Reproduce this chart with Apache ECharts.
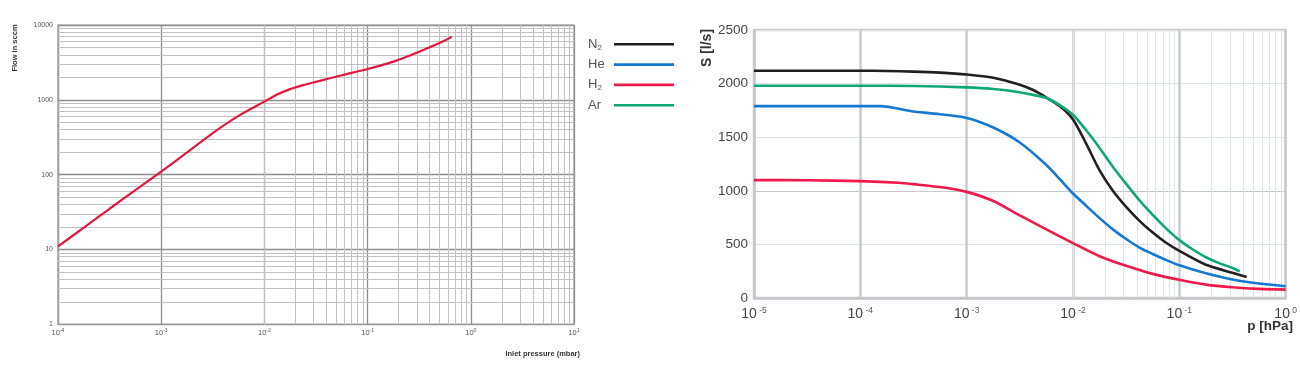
<!DOCTYPE html>
<html><head><meta charset="utf-8">
<script src="https://cdn.jsdelivr.net/npm/echarts@6/dist/echarts.min.js"></script>
<style>html,body{margin:0;padding:0;background:#fff}#c{width:1300px;height:383px}</style>
</head><body><div id="c"></div>
<script>
// ---- Left chart: flow (sccm) vs inlet pressure (mbar) ----
const flowPressure = [1e-4, 1.78e-4, 3.16e-4, 5.62e-4, 1e-3, 1.78e-3, 3.16e-3, 5.62e-3, 1e-2, 1.33e-2, 1.78e-2, 2.37e-2, 3.16e-2, 5.62e-2, 0.1, 0.178, 0.316, 0.562, 0.653];
const flowValues   = [11, 19.6, 35, 62, 110, 198, 360, 610, 947, 1180, 1390, 1570, 1740, 2130, 2580, 3244, 4400, 6200, 7000];
const flowYTicks = [1, 10, 100, 1000, 10000];

// ---- Right chart: pumping speed S (l/s) vs pressure p (hPa) ----
const n2Pressure = [1e-5, 3.16e-5, 1e-4, 1.78e-4, 3.16e-4, 5.62e-4, 1e-3, 1.78e-3, 3.16e-3, 4.22e-3, 5.62e-3, 7.5e-3, 1e-2, 1.33e-2, 1.78e-2, 2.37e-2, 3.16e-2, 4.22e-2, 5.62e-2, 7.5e-2, 0.1, 0.178, 0.316, 0.43];
const n2Speed    = [2120, 2120, 2120, 2118, 2112, 2102, 2085, 2055, 1990, 1940, 1870, 1790, 1665, 1440, 1190, 1000, 850, 720, 610, 515, 440, 310, 235, 197];
const hePressure = [1e-5, 3.16e-5, 1e-4, 1.55e-4, 3.16e-4, 4.7e-4, 1e-3, 1.78e-3, 3.16e-3, 5.62e-3, 7.5e-3, 1e-2, 1.33e-2, 1.78e-2, 2.37e-2, 3.16e-2, 4.22e-2, 5.62e-2, 7.5e-2, 0.1, 0.178, 0.316, 0.562, 1];
const heSpeed    = [1790, 1790, 1790, 1790, 1740, 1722, 1680, 1590, 1450, 1240, 1110, 975, 860, 745, 640, 550, 470, 410, 355, 305, 230, 172, 135, 110];
const h2Pressure = [1e-5, 3.16e-5, 1e-4, 2.3e-4, 3.16e-4, 5.62e-4, 1e-3, 1.78e-3, 3.16e-3, 5.62e-3, 1e-2, 1.78e-2, 3.16e-2, 5.62e-2, 0.1, 0.178, 0.316, 0.562, 1];
const h2Speed    = [1100, 1098, 1090, 1075, 1062, 1035, 990, 905, 770, 640, 512, 390, 300, 225, 170, 125, 100, 85, 78];
const arPressure = [1e-5, 3.16e-5, 1e-4, 3.16e-4, 1e-3, 1.78e-3, 3.16e-3, 4.22e-3, 5.62e-3, 7.5e-3, 1e-2, 1.33e-2, 1.78e-2, 2.37e-2, 3.16e-2, 4.22e-2, 5.62e-2, 7.5e-2, 0.1, 0.133, 0.178, 0.237, 0.316, 0.37];
const arSpeed    = [1980, 1980, 1980, 1978, 1965, 1950, 1920, 1895, 1865, 1800, 1710, 1565, 1400, 1225, 1065, 910, 775, 650, 540, 455, 380, 325, 280, 248];
const gasNames = ['N2', 'He', 'H2', 'Ar'];
const gasColors = ['#231f20', '#1479d2', '#f0194b', '#0ea876'];

function zip(a, b) { return a.map((v, i) => [v, b[i]]); }
function minorLines(key, fromExp, toExp) {
  const out = [];
  for (let e = fromExp; e < toExp; e++) for (let k = 2; k <= 9; k++) out.push({ [key]: k * Math.pow(10, e) });
  return out;
}
function expOf(v) { return Math.round(Math.log10(v)); }

const FONT = 'Liberation Sans, Arial, sans-serif';
const chart = echarts.init(document.getElementById('c'), null, { renderer: 'canvas' });

const rightData = [zip(n2Pressure, n2Speed), zip(hePressure, heSpeed), zip(h2Pressure, h2Speed), zip(arPressure, arSpeed)];

const option = {
  animation: false,
  backgroundColor: '#fff',
  textStyle: { fontFamily: FONT },
  grid: [
    { left: 58, top: 25, width: 516, height: 299.3, show: true, borderColor: '#9a9a9a', borderWidth: 1.2 },
    { left: 754, top: 30, width: 535, height: 268, show: true, borderColor: '#c5c8cc', borderWidth: 2.5 }
  ],
  xAxis: [
    { gridIndex: 0, type: 'log', logBase: 10, min: 1e-4, max: 10,
      axisLine: { show: true, lineStyle: { color: '#9a9a9a', width: 1.2 } }, axisTick: { show: false },
      splitLine: { show: true, lineStyle: { color: '#8f8f8f', width: 1.3 } },
      axisLabel: { margin: 4, color: '#555', formatter: v => '{b|10}{s|' + expOf(v) + '}',
        rich: { b: { fontSize: 7.5, color: '#555', lineHeight: 10 }, s: { fontSize: 5, color: '#555', verticalAlign: 'top', lineHeight: 6 } } } },
    { gridIndex: 1, type: 'log', logBase: 10, min: 1e-5, max: 1,
      axisLine: { show: true, lineStyle: { color: '#c5c8cc', width: 2.5 } }, axisTick: { show: false },
      splitLine: { show: true, lineStyle: { color: '#c9ccd0', width: 2.5 } },
      axisLabel: { margin: 8, color: '#444', formatter: v => '{b|10}{s| ' + expOf(v) + '}',
        rich: { b: { fontSize: 14, color: '#444', lineHeight: 16 }, s: { fontSize: 8.5, color: '#555', verticalAlign: 'top', lineHeight: 10 } } } }
  ],
  yAxis: [
    { gridIndex: 0, type: 'log', logBase: 10, min: flowYTicks[0], max: flowYTicks[flowYTicks.length - 1],
      axisLine: { show: true, lineStyle: { color: '#9a9a9a', width: 1.2 } }, axisTick: { show: false },
      splitLine: { show: true, lineStyle: { color: '#8f8f8f', width: 1.3 } },
      axisLabel: { margin: 5, fontSize: 7, color: '#555', formatter: v => String(Math.round(v)) } },
    { gridIndex: 1, type: 'value', min: 0, max: 2500, interval: 500,
      axisLine: { show: true, lineStyle: { color: '#c5c8cc', width: 2.5 } }, axisTick: { show: false },
      splitLine: { show: true, lineStyle: { color: ['#e0e3e6', '#e0e3e6', '#c6c9cc', '#e0e3e6', '#e0e3e6', '#e0e3e6'], width: 1 } },
      axisLabel: { margin: 6, fontSize: 13.5, color: '#444', formatter: v => String(Math.round(v)) } }
  ],
  legend: {
    data: gasNames, orient: 'vertical', left: 583, top: 32.3, align: 'right',
    icon: 'rect', itemWidth: 60, itemHeight: 2.6, itemGap: 6.3,
    textStyle: { width: 21, fontSize: 13, color: '#555', lineHeight: 14,
      rich: { n: { fontSize: 13, color: '#555', lineHeight: 14, align: 'left' }, s: { fontSize: 8, color: '#555', verticalAlign: 'bottom', lineHeight: 6, align: 'left' } } },
    formatter: name => name.length === 2 && /\d/.test(name[1]) ? '{n|' + name[0] + '}{s|' + name[1] + '}' : '{n|' + name + '}'
  },
  graphic: [
    { type: 'text', x: 15, y: 48, rotation: Math.PI / 2, style: { text: 'Flow in sccm', font: 'bold 7.5px ' + FONT, fill: '#333', align: 'center', verticalAlign: 'middle' } },
    { type: 'text', x: 580, y: 354, style: { text: 'Inlet pressure (mbar)', font: 'bold 7.5px ' + FONT, fill: '#333', align: 'right', verticalAlign: 'middle' } },
    { type: 'text', x: 707, y: 48, rotation: Math.PI / 2, style: { text: 'S [l/s]', font: 'bold 14px ' + FONT, fill: '#333', align: 'center', verticalAlign: 'middle' } },
    { type: 'text', x: 1293, y: 326, style: { text: 'p [hPa]', font: 'bold 13.5px ' + FONT, fill: '#333', align: 'right', verticalAlign: 'middle' } }
  ],
  series: [
    { name: 'minorLeft', type: 'line', xAxisIndex: 0, yAxisIndex: 0, data: [[1e-4, 1]], symbol: 'none', lineStyle: { width: 0 }, z: 1, silent: true,
      markLine: { silent: true, symbol: ['none', 'none'], label: { show: false }, animation: false,
        lineStyle: { type: 'solid', color: '#c2c2c2', width: 1 },
        data: minorLines('xAxis', -4, 1).concat(minorLines('yAxis', 0, 4)) } },
    { name: 'minorRight', type: 'line', xAxisIndex: 1, yAxisIndex: 1, data: [[1e-5, 0]], symbol: 'none', lineStyle: { width: 0 }, z: 1, silent: true,
      markLine: { silent: true, symbol: ['none', 'none'], label: { show: false }, animation: false,
        lineStyle: { type: 'solid', color: '#e2e5e8', width: 1 },
        data: minorLines('xAxis', -5, 0) } },
    { name: 'Flow', type: 'line', xAxisIndex: 0, yAxisIndex: 0, data: zip(flowPressure, flowValues), symbol: 'none', smooth: 0.25, z: 5,
      lineStyle: { color: '#e3173e', width: 2.2 }, itemStyle: { color: '#e3173e' } }
  ].concat(gasNames.map((g, i) => ({
    name: g, type: 'line', xAxisIndex: 1, yAxisIndex: 1, data: rightData[i], symbol: 'none', smooth: 0.25, z: 5,
    lineStyle: { color: gasColors[i], width: 2.6 }, itemStyle: { color: gasColors[i] }
  })))
};
chart.setOption(option);
</script>
</body></html>
